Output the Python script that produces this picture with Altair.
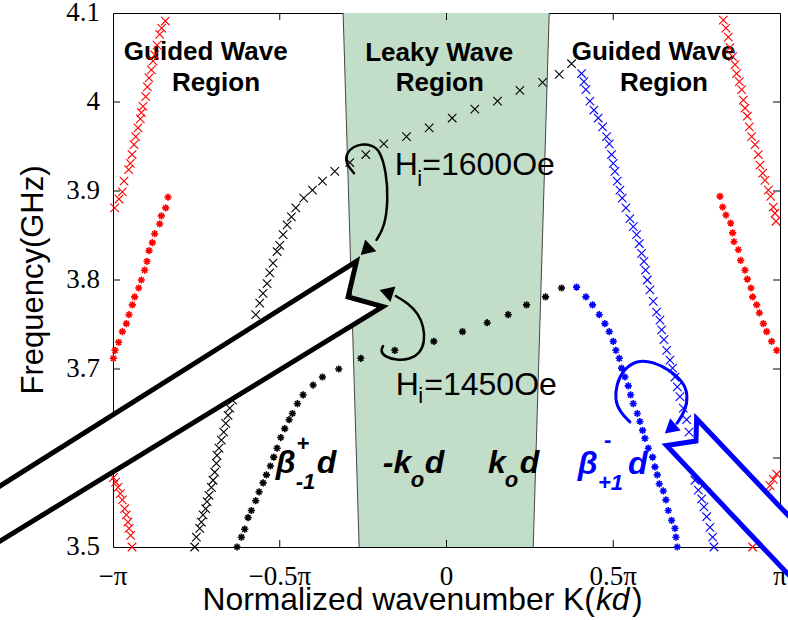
import altair as alt
import pandas as pd

# ---------------- data: K in units of pi, frequency in GHz ----------------
# red x, upper left
rxa_k = [-0.995,-0.982,-0.972,-0.967,-0.953,-0.948,-0.943,-0.937,-0.932,-0.925,-0.918,-0.915,-0.910,-0.902,-0.897,-0.892,-0.885,-0.880,-0.875,-0.868,-0.860,-0.854,-0.843]
rxa_f = [3.881,3.891,3.899,3.911,3.924,3.931,3.941,3.952,3.961,3.971,3.981,3.988,3.995,4.006,4.017,4.027,4.036,4.046,4.053,4.064,4.076,4.083,4.091]
# red *, left
rsa_k = [-0.835,-0.842,-0.855,-0.860,-0.875,-0.882,-0.892,-0.898,-0.905,-0.915,-0.923,-0.935,-0.942,-0.952,-0.960,-0.972,-0.983,-0.994,-0.999]
rsa_f = [3.893,3.881,3.872,3.863,3.852,3.842,3.833,3.821,3.811,3.800,3.791,3.781,3.772,3.761,3.751,3.742,3.730,3.721,3.712]
# red x, lower left
rxb_k = [-0.999,-0.992,-0.985,-0.978,-0.972,-0.965,-0.960,-0.955,-0.952,-0.947,-0.943]
rxb_f = [3.578,3.573,3.567,3.560,3.553,3.543,3.536,3.528,3.521,3.513,3.500]
# black x (H = 1600 Oe)
bx_k = [-0.755,-0.750,-0.740,-0.735,-0.730,-0.722,-0.718,-0.712,-0.705,-0.700,-0.695,-0.690,-0.688,-0.682,-0.675,-0.668,-0.662,-0.655,-0.650,-0.642,
        -0.572,-0.560,-0.550,-0.538,-0.530,-0.520,-0.508,-0.500,-0.490,-0.478,-0.465,-0.452,-0.428,-0.402,-0.372,-0.335,-0.290,-0.242,-0.188,-0.120,
        -0.052,0.017,0.085,0.153,0.220,0.288,0.338,0.375]
bx_f = [3.500,3.511,3.521,3.528,3.536,3.543,3.551,3.558,3.567,3.575,3.584,3.594,3.603,3.611,3.620,3.629,3.639,3.648,3.656,3.665,
        3.761,3.774,3.785,3.796,3.808,3.819,3.832,3.839,3.851,3.862,3.871,3.881,3.892,3.901,3.911,3.922,3.932,3.941,3.953,3.961,
        3.971,3.982,3.992,4.001,4.013,4.022,4.031,4.043]
# black * (H = 1450 Oe)
bs_k = [-0.628,-0.615,-0.605,-0.595,-0.585,-0.572,-0.562,-0.550,-0.540,-0.528,-0.518,-0.508,-0.497,-0.485,-0.472,
        -0.462,-0.447,-0.430,-0.400,-0.372,-0.323,-0.257,-0.155,-0.038,0.048,0.122,0.185,0.240,0.297,0.345]
bs_f = [3.500,3.511,3.520,3.533,3.541,3.552,3.562,3.572,3.581,3.591,3.601,3.611,3.623,3.633,3.643,
        3.650,3.661,3.671,3.682,3.691,3.700,3.712,3.721,3.731,3.742,3.752,3.761,3.772,3.781,3.791]
# blue x
ux_k = [0.405,0.412,0.418,0.430,0.442,0.455,0.468,0.480,0.488,0.495,0.500,0.505,0.512,0.520,0.527,0.538,0.550,0.560,0.570,0.578,
        0.585,0.592,0.597,0.602,0.610,0.620,0.630,0.640,0.645,0.652,0.660,0.670,0.678,0.685,0.692,0.700,0.710,0.720,0.727,
        0.745,0.755,0.765,0.772,0.780,0.790,0.798,0.802]
ux_f = [4.032,4.023,4.014,4.001,3.991,3.982,3.972,3.961,3.953,3.941,3.931,3.922,3.911,3.901,3.892,3.881,3.869,3.860,3.851,3.841,
        3.830,3.821,3.811,3.800,3.789,3.776,3.764,3.755,3.744,3.733,3.721,3.710,3.701,3.691,3.680,3.669,3.656,3.643,3.629,
        3.575,3.564,3.554,3.545,3.534,3.522,3.511,3.500]
# blue *
us_k = [0.390,0.418,0.438,0.458,0.475,0.488,0.500,0.508,0.518,0.525,0.535,0.545,0.552,0.560,0.572,
        0.580,0.588,0.595,0.605,0.618,0.625,0.632,0.638,0.650,0.658,0.665,0.675,0.685,0.688,0.692]
us_f = [3.792,3.781,3.772,3.761,3.751,3.742,3.731,3.721,3.712,3.701,3.691,3.681,3.671,3.661,3.650,
        3.641,3.631,3.622,3.611,3.601,3.590,3.581,3.571,3.563,3.553,3.541,3.530,3.521,3.511,3.500]
# red x, upper right
rxc_k = [0.830,0.838,0.845,0.850,0.858,0.865,0.870,0.878,0.885,0.890,0.895,0.902,0.908,0.915,0.925,0.935,0.940,0.948,0.955,0.965,0.972,0.980,0.985,0.988]
rxc_f = [4.092,4.083,4.073,4.061,4.051,4.042,4.032,4.023,4.014,4.002,3.993,3.984,3.972,3.961,3.952,3.941,3.929,3.920,3.912,3.901,3.894,3.882,3.875,3.866]
# red *, right
rsb_k = [0.820,0.828,0.838,0.852,0.858,0.862,0.875,0.882,0.895,0.902,0.913,0.918,0.930,0.938,0.950,0.960,0.975,0.990]
rsb_f = [3.894,3.882,3.873,3.864,3.853,3.843,3.834,3.822,3.811,3.801,3.791,3.781,3.772,3.763,3.751,3.742,3.731,3.721]
# red x, lower right
rxd_k = [0.990,0.980,0.970,0.962,0.918]
rxd_f = [3.582,3.576,3.569,3.561,3.500]

x_ticks = [-1, -0.5, 0, 0.5, 1]
x_tick_labels = ["\u2212\u03c0", "\u22120.5\u03c0", "0", "0.5\u03c0", "\u03c0"]
y_ticks = [3.5, 3.6, 3.7, 3.8, 3.9, 4.0, 4.1]
y_tick_labels = ["3.5", "3.6", "3.7", "3.8", "3.9", "4", "4.1"]

# leaky-wave region boundaries (+/- k0 d) at bottom and top of the frequency range
leaky_f = [3.5, 4.1]
leaky_lo = [-0.262, -0.310]
leaky_hi = [0.260, 0.308]

# ---------------- annotations (data units) ----------------
black_arrow = [(-1.40, 3.554), (-0.270, 3.821), (-0.295, 3.781), (-0.191, 3.770), (-1.40, 3.4926)]
blue_arrow = [(0.750, 3.644), (1.084, 3.512), (1.084, 3.4456), (0.660, 3.614), (0.748, 3.619)]
curve1 = [(-0.2772,3.9200),(-0.3030,3.9313),(-0.3000,3.9425),(-0.2802,3.9499),(-0.2502,3.9530),(-0.2241,3.9513),
          (-0.2001,3.9462),(-0.1800,3.9204),(-0.1752,3.8900),(-0.1851,3.8600),(-0.2100,3.8450)]
curve2 = [(-0.1902,3.7258),(-0.1980,3.7205),(-0.1851,3.7137),(-0.1500,3.7100),(-0.1101,3.7108),(-0.0801,3.7175),
          (-0.0651,3.7306),(-0.0681,3.7475),(-0.0852,3.7625),(-0.1152,3.7738),(-0.1521,3.7820)]
curve3 = [(0.5499,3.6406),(0.5199,3.6519),(0.5049,3.6650),(0.5100,3.6838),(0.5298,3.6988),(0.5700,3.7100),
          (0.6199,3.7081),(0.6700,3.6988),(0.7099,3.6856),(0.7249,3.6706),(0.7150,3.6519),(0.6910,3.6391)]
heads = [(-0.2421, 3.8335, 226, "black"), (-0.1806, 3.7864, 288, "black"), (0.6706, 3.6326, 229, "#0000ff")]

XPATH = "M-1,-1L1,1M-1,1L1,-1"
STAR = "M-1,0L1,0M0,-1L0,1M-0.7,-0.7L0.7,0.7M-0.7,0.7L0.7,-0.7"
SERIF = "Liberation Serif, Times New Roman, DejaVu Serif, serif"
SANS = "Liberation Sans, Arial, Helvetica, sans-serif"

# ---------------- frames ----------------
def pts(klist, flist, color):
    return pd.DataFrame({"k": klist, "f": flist, "c": color})

xdf = pd.concat([pts(rxa_k, rxa_f, "#ff0000"), pts(rxb_k, rxb_f, "#ff0000"), pts(bx_k, bx_f, "black"),
                 pts(ux_k, ux_f, "#0000ff"), pts(rxc_k, rxc_f, "#ff0000"), pts(rxd_k, rxd_f, "#ff0000")])
sdf = pd.concat([pts(rsa_k, rsa_f, "#ff0000"), pts(bs_k, bs_f, "black"),
                 pts(us_k, us_f, "#0000ff"), pts(rsb_k, rsb_f, "#ff0000")])

xs = alt.Scale(domain=[-1, 1], nice=False, zero=False)
ys = alt.Scale(domain=[3.5, 4.1], nice=False, zero=False)

def X(field="k"):
    return alt.X(f"{field}:Q", scale=xs, axis=None)

def Y(field="f"):
    return alt.Y(f"{field}:Q", scale=ys, axis=None)

# green leaky region
green_df = pd.DataFrame({"f": leaky_f, "k": leaky_lo, "k2": leaky_hi})
green = alt.Chart(green_df).mark_area(orient="horizontal", color="#c2dec9", opacity=1).encode(
    y=Y(), x=X(), x2="k2:Q")
edge_df = pd.DataFrame({"k": leaky_lo + leaky_hi, "f": leaky_f + leaky_f, "g": ["a", "a", "b", "b"]})
edges = alt.Chart(edge_df).mark_line(color="#444444", strokeWidth=1).encode(x=X(), y=Y(), detail="g:N")

# inward ticks
tick_rows = []
for v in x_ticks[1:-1]:
    tick_rows.append({"k": v, "k2": v, "f": 3.5, "f2": 3.5 + 7 / 889})
    tick_rows.append({"k": v, "k2": v, "f": 4.1, "f2": 4.1 - 7 / 889})
for v in y_ticks[1:-1]:
    tick_rows.append({"k": -1, "k2": -1 + 7 / 333.3, "f": v, "f2": v})
    tick_rows.append({"k": 1, "k2": 1 - 7 / 333.3, "f": v, "f2": v})
ticks = alt.Chart(pd.DataFrame(tick_rows)).mark_rule(color="black", strokeWidth=1).encode(
    x=X(), x2="k2:Q", y=Y(), y2="f2:Q")

# tick labels drawn as text marks placed through the scales
xlab_df = pd.DataFrame({"t": x_tick_labels, "k": x_ticks, "f": [3.5] * len(x_ticks)})
xlabels = alt.Chart(xlab_df).mark_text(font=SERIF, fontSize=27, color="black", align="center",
                                       baseline="alphabetic", dy=38).encode(x=X(), y=Y(), text="t:N")
ylab_df = pd.DataFrame({"t": y_tick_labels, "k": [-1] * len(y_ticks), "f": y_ticks})
ylabels = alt.Chart(ylab_df).mark_text(font=SERIF, fontSize=27, color="black", align="right",
                                       baseline="middle", dx=-13).encode(x=X(), y=Y(), text="t:N")

xmarks = alt.Chart(xdf).mark_point(shape=XPATH, size=72, filled=False, strokeWidth=1.1, opacity=1).encode(
    x=X(), y=Y(), color=alt.Color("c:N", scale=None))
smarks = alt.Chart(sdf).mark_point(shape=STAR, size=52, filled=False, strokeWidth=1.6, opacity=1).encode(
    x=X(), y=Y(), color=alt.Color("c:N", scale=None))

# texts
def tlayer(rows, **kw):
    df = pd.DataFrame(rows, columns=["t", "k", "f", "s", "c"])
    return alt.Chart(df).mark_text(**kw).encode(
        x=X(), y=Y(), text="t:N", size=alt.Size("s:Q", scale=None), color=alt.Color("c:N", scale=None))

region_txt = tlayer([
    ("Guided Wave", -0.722, 4.0475, 26, "black"), ("Region", -0.691, 4.0118, 26, "black"),
    ("Leaky Wave", -0.022, 4.0456, 26, "black"), ("Region", -0.020, 4.0118, 26, "black"),
    ("Guided Wave", 0.621, 4.0475, 26, "black"), ("Region", 0.652, 4.0118, 26, "black"),
], font=SANS, fontWeight="bold", align="center", baseline="alphabetic")

h_txt = tlayer([
    ("H", -0.1551, 3.918, 32, "black"), ("i", -0.0876, 3.9057, 22, "black"), ("=1600Oe", -0.0726, 3.918, 32, "black"),
    ("H", -0.1521, 3.6706, 32, "black"), ("i", -0.0846, 3.6616, 22, "black"), ("=1450Oe", -0.0666, 3.6706, 32, "black"),
], font=SANS, align="left", baseline="alphabetic")

bi_txt = tlayer([
    ("\u03b2", -0.512, 3.583, 32, "black"), ("-1", -0.452, 3.565, 22, "black"), ("d", -0.389, 3.583, 32, "black"),
    ("-k", -0.1911, 3.583, 32, "black"), ("o", -0.1071, 3.5672, 22, "black"), ("d", -0.0651, 3.583, 32, "black"),
    ("k", 0.1242, 3.583, 32, "black"), ("o", 0.175, 3.5672, 22, "black"), ("d", 0.2199, 3.583, 32, "black"),
    ("\u03b2", 0.3939, 3.5818, 32, "#0000ff"), ("+1", 0.4539, 3.5638, 22, "#0000ff"), ("d", 0.5439, 3.5818, 32, "#0000ff"),
], font=SANS, fontWeight="bold", fontStyle="italic", align="left", baseline="alphabetic")

b_txt = tlayer([
    ("+", -0.449, 3.6076, 22, "black"), ("-", 0.4719, 3.6121, 22, "#0000ff"),
], font=SANS, fontWeight="bold", align="left", baseline="alphabetic")

xt_r = tlayer([("Normalized wavenumber K(", 0.4449, 3.4288, 31.8, "black")],
              font=SANS, align="right", baseline="alphabetic")
xt_i = tlayer([("kd", 0.4482, 3.4288, 31.8, "black")],
              font=SANS, fontStyle="italic", align="left", baseline="alphabetic")
xt_l = tlayer([(")", 0.5559, 3.4288, 31.8, "black")],
              font=SANS, align="left", baseline="alphabetic")
yt = tlayer([("Frequency(GHz)", -1.2112, 3.80, 31, "black")],
            font=SANS, align="center", baseline="alphabetic", angle=270)

# curved arrows
def curve(points, color, width):
    df = pd.DataFrame({"k": [p[0] for p in points], "f": [p[1] for p in points], "i": list(range(len(points)))})
    return alt.Chart(df).mark_line(color=color, strokeWidth=width, interpolate="basis", strokeCap="round").encode(
        x=X(), y=Y(), order="i:Q")

c1 = curve(curve1, "black", 2.5)
c2 = curve(curve2, "black", 2.5)
c3 = curve(curve3, "#0000ff", 3)
head_df = pd.DataFrame(heads, columns=["k", "f", "a", "c"])
arrowheads = alt.Chart(head_df).mark_point(shape="triangle-up", size=260, filled=True, opacity=1).encode(
    x=X(), y=Y(), angle=alt.Angle("a:Q", scale=None), color=alt.Color("c:N", scale=None))

def callout(points, color):
    pts_ = points + [points[0], points[1]]
    df = pd.DataFrame({"k": [p[0] for p in pts_], "f": [p[1] for p in pts_], "i": list(range(len(pts_)))})
    return alt.Chart(df).mark_line(fill="white", stroke=color, strokeWidth=5, strokeJoin="miter").encode(
        x=X(), y=Y(), order="i:Q")

ba = callout(black_arrow, "black")
ua = callout(blue_arrow, "#0000ff")

chart = alt.layer(
    green, edges, ticks, xlabels, ylabels, region_txt, xmarks, smarks, h_txt, bi_txt, b_txt,
    c1, c2, c3, arrowheads, ba, ua, xt_r, xt_i, xt_l, yt
).properties(
    width=667, height=534,
    autosize=alt.AutoSizeParams(type="none"),
    padding={"left": 113, "top": 13, "right": 8, "bottom": 73},
    background="white",
).configure_view(
    stroke="black", strokeWidth=1
)

chart.save("out.html", embed_options={"renderer": "svg", "actions": False})
